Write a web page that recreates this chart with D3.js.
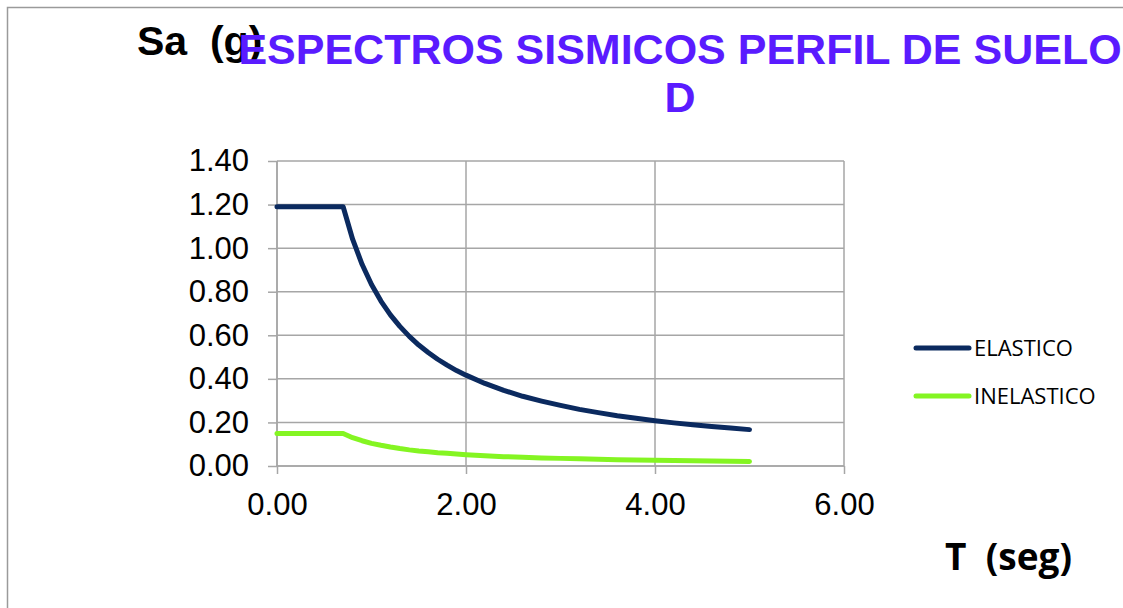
<!DOCTYPE html>
<html>
<head>
<meta charset="utf-8">
<script src="https://cdn.jsdelivr.net/npm/d3@7"></script>
<style>
  html, body { margin: 0; padding: 0; background: #ffffff; }
  svg { display: block; }
</style>
</head>
<body>
<svg id="chart" width="1123" height="608"></svg>
<script>
// Periods T (s) and spectral accelerations Sa (g)
const periods = [0.00, 0.70, 0.80, 0.90, 1.00, 1.10, 1.20, 1.30, 1.40, 1.50, 1.60, 1.70, 1.80, 1.90,
  2.00, 2.20, 2.40, 2.60, 2.80, 3.00, 3.20, 3.40, 3.60, 3.80, 4.00, 4.20, 4.40, 4.60, 4.80, 5.00];
const elastico = [1.190, 1.190, 1.041, 0.926, 0.833, 0.757, 0.694, 0.641, 0.595, 0.555, 0.521, 0.490, 0.463, 0.438,
  0.417, 0.379, 0.347, 0.320, 0.298, 0.278, 0.260, 0.245, 0.231, 0.219, 0.208, 0.198, 0.189, 0.181, 0.174, 0.167];
const inelastico = [0.149, 0.149, 0.130, 0.116, 0.104, 0.095, 0.087, 0.080, 0.074, 0.069, 0.065, 0.061, 0.058, 0.055,
  0.052, 0.047, 0.043, 0.040, 0.037, 0.035, 0.033, 0.031, 0.029, 0.027, 0.026, 0.025, 0.024, 0.023, 0.022, 0.021];
const seriesNames = ["ELASTICO", "INELASTICO"];
const xTicks = [0, 2, 4, 6];
const yTicks = [0, 0.2, 0.4, 0.6, 0.8, 1.0, 1.2, 1.4];

const svg = d3.select("#chart");

// outer chart frame
svg.append("rect")
  .attr("x", 7.5).attr("y", 7.5)
  .attr("width", 1400).attr("height", 900)
  .attr("fill", "#ffffff")
  .attr("stroke", "#9a9a9a").attr("stroke-width", 1.5);

const plot = { left: 277, right: 844, top: 161, bottom: 466 };
const x = d3.scaleLinear().domain([0, 6]).range([plot.left, plot.right]);
const y = d3.scaleLinear().domain([0, 1.4]).range([plot.bottom, plot.top]);

// gridlines
svg.append("g")
  .selectAll("line.h")
  .data(yTicks)
  .join("line")
  .attr("x1", plot.left).attr("x2", plot.right)
  .attr("y1", d => y(d)).attr("y2", d => y(d))
  .attr("stroke", "#a6a6a6").attr("stroke-width", 1.5);

svg.append("g")
  .selectAll("line.v")
  .data(xTicks)
  .join("line")
  .attr("y1", plot.top).attr("y2", plot.bottom)
  .attr("x1", d => x(d)).attr("x2", d => x(d))
  .attr("stroke", "#a6a6a6").attr("stroke-width", 1.5);

// axes
const yAxis = d3.axisLeft(y).tickValues(yTicks).tickFormat(d3.format(".2f")).tickSize(9).tickPadding(19);
const xAxis = d3.axisBottom(x).tickValues(xTicks).tickFormat(d3.format(".2f")).tickSize(8).tickPadding(19);

const gy = svg.append("g").attr("transform", `translate(${plot.left},0)`).call(yAxis);
const gx = svg.append("g").attr("transform", `translate(0,${plot.bottom})`).call(xAxis);

[gx, gy].forEach(g => {
  g.select(".domain").attr("stroke", "#a6a6a6").attr("stroke-width", 1.5);
  g.selectAll(".tick line").attr("stroke", "#a6a6a6").attr("stroke-width", 1.5);
  g.selectAll(".tick text")
    .attr("fill", "#000000")
    .style("font-family", "'Liberation Sans', Arial, sans-serif")
    .style("font-size", "31px");
});
gy.select(".domain").attr("d", `M0,${plot.top}V${plot.bottom}`);
gx.select(".domain").attr("d", `M${plot.left},0H${plot.right}`);

// series lines
const line = d3.line().x(d => x(d[0])).y(d => y(d[1]));
const series = [
  { name: seriesNames[0], values: elastico, color: "#0b2a5f" },
  { name: seriesNames[1], values: inelastico, color: "#84f522" }
];
series.slice().reverse().forEach(s => {
  svg.append("path")
    .datum(periods.map((t, i) => [t, s.values[i]]))
    .attr("d", line)
    .attr("fill", "none")
    .attr("stroke", s.color)
    .attr("stroke-width", 5)
    .attr("stroke-linecap", "round")
    .attr("stroke-linejoin", "round");
});

// legend
const legend = svg.append("g");
series.forEach((s, i) => {
  const ly = 348 + i * 48;
  legend.append("line")
    .attr("x1", 916).attr("x2", 969)
    .attr("y1", ly).attr("y2", ly)
    .attr("stroke", s.color).attr("stroke-width", 5)
    .attr("stroke-linecap", "round");
  legend.append("text")
    .attr("x", 974).attr("y", ly + 8)
    .style("font-family", "'Open Sans', sans-serif")
    .style("font-size", "22px")
    .attr("fill", "#000000")
    .text(s.name);
});

// vertical axis title (drawn under the chart title, which overlaps its end)
svg.append("text")
  .attr("x", 137).attr("y", 55)
  .style("font-family", "'Liberation Sans', Arial, sans-serif")
  .style("font-weight", "bold")
  .style("font-size", "41px")
  .attr("fill", "#000000")
  .attr("xml:space", "preserve")
  .text("Sa  (g)");

// chart title
const title = svg.append("text")
  .attr("text-anchor", "middle")
  .style("font-family", "'Liberation Sans', Arial, sans-serif")
  .style("font-weight", "bold")
  .style("font-size", "43px")
  .attr("fill", "#5a1bff");
title.append("tspan").attr("x", 680).attr("y", 64).text("ESPECTROS SISMICOS PERFIL DE SUELO");
title.append("tspan").attr("x", 680).attr("y", 112).text("D");

// horizontal axis title
svg.append("text")
  .attr("x", 1072).attr("y", 570)
  .attr("text-anchor", "end")
  .style("font-family", "'Open Sans', sans-serif")
  .style("font-weight", "bold")
  .style("font-size", "37px")
  .attr("fill", "#000000")
  .attr("xml:space", "preserve")
  .text("T  (seg)");
</script>
</body>
</html>
